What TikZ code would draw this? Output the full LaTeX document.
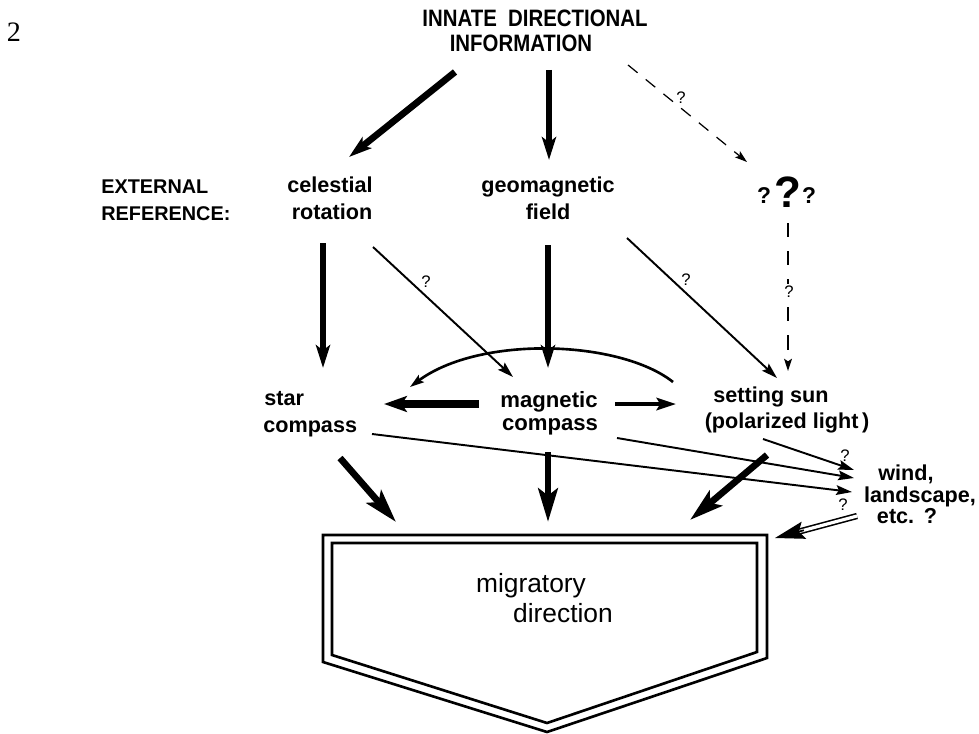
\documentclass[tikz,border=0pt]{standalone}
\usepackage{fontspec}
\setmainfont{Liberation Sans}
\newfontfamily\condfont[FakeStretch=0.86]{Liberation Sans}
\newfontfamily\serfont{Liberation Serif}
\usetikzlibrary{arrows.meta,calc}
\begin{document}
\begin{tikzpicture}[x=0.02cm,y=-0.02cm,
  lab/.style={inner sep=0pt, anchor=base, font=\bfseries\fontsize{12.3}{14}\selectfont},
  caps/.style={inner sep=0pt, anchor=base west, font=\bfseries\fontsize{11.3}{14}\selectfont},
  head/.style={inner sep=0pt, anchor=base, font=\condfont\bfseries\fontsize{13.5}{16}\selectfont},
  qs/.style={inner sep=0pt, font=\fontsize{9.5}{10}\selectfont},
  big/.style={line width=3.4pt, -{Stealth[length=13pt,width=8pt,inset=3pt]}},
  boxarrow/.style={line width=3.8pt, -{Stealth[length=19pt,width=11pt,inset=4pt]}},
  thin/.style={line width=1.1pt, -{Stealth[length=9pt,width=5.5pt,inset=1.5pt]}},
  dashline/.style={line width=0.7pt, dash pattern=on 7pt off 6pt, -{Stealth[length=7pt,width=4.5pt,inset=1.5pt]}},
  boxline/.style={line width=1.5pt, line join=miter}
]
\fill[white] (0,0) rectangle (979,733);
\useasboundingbox (0,0) rectangle (979,733);

% --- texts ---
\node[inner sep=0pt, anchor=base, font=\serfont\fontsize{16}{17}\selectfont] (num) at (14,42) {2};
\node[head] (innA) at (535,27) {INNATE\ \ DIRECTIONAL};
\node[head] (innB) at (521,52) {INFORMATION};
\node[caps] (extA) at (101,194) {EXTERNAL};
\node[caps] (extB) at (101,220) {REFERENCE:};
\node[lab] (celA) at (330,193) {celestial};
\node[lab] (celB) at (332,219) {rotation};
\node[lab] (geoA) at (548,193) {geomagnetic};
\node[lab] (geoB) at (548,219) {field};
\node[inner sep=0pt, anchor=base, font=\bfseries\fontsize{13}{14}\selectfont] (qa) at (764,203) {?};
\node[inner sep=0pt, anchor=base, font=\bfseries\fontsize{25}{26}\selectfont] (qbig) at (788,207) {?};
\node[inner sep=0pt, anchor=base, font=\bfseries\fontsize{13}{14}\selectfont] (qc) at (809,203) {?};
\node[lab, anchor=base west] (starA) at (264,405) {star};
\node[lab, anchor=base west] (starB) at (263,432) {compass};
\node[lab, font=\bfseries\fontsize{12.6}{14}\selectfont] (magA) at (549,407) {magnetic};
\node[lab, font=\bfseries\fontsize{12.6}{14}\selectfont] (magB) at (550,430) {compass};
\node[lab] (sunA) at (771,402) {setting sun};
\node[lab] (sunB) at (787,428) {(polarized light\,)};
\node[lab] (windA) at (906,480) {wind,};
\node[lab] (windB) at (920,502) {landscape,};
\node[lab] (windC) at (907,523) {etc.\ \,?};
\node[inner sep=0pt, anchor=base, font=\fontsize{15}{17}\selectfont] (migA) at (531,592) {migratory};
\node[inner sep=0pt, anchor=base, font=\fontsize{15}{17}\selectfont] (migB) at (563,622) {direction};

% --- connector end points ---
\coordinate (iA) at (455,72);   \coordinate (iAt) at (349,157);
\coordinate (iB) at (549,70);   \coordinate (iBt) at (549,160);
\coordinate (iC) at (628,65);   \coordinate (iCt) at (747,162);
\coordinate (cA) at (323,243);  \coordinate (cAt) at (323,368);
\coordinate (cB) at (373,247);  \coordinate (cBt) at (513,377);
\coordinate (gA) at (548,245);  \coordinate (gAt) at (548,368);
\coordinate (gB) at (627,238);  \coordinate (gBt) at (777,378);
\coordinate (qA) at (788,223);  \coordinate (qAt) at (788,371);
\coordinate (arcR) at (673,382); \coordinate (arcL) at (410,387);
\coordinate (mL) at (479,404);  \coordinate (mLt) at (384,404);
\coordinate (mR) at (615,404);  \coordinate (mRt) at (676,404);
\coordinate (sW) at (372,434);  \coordinate (sWt) at (852,492);
\coordinate (mW) at (617,438);  \coordinate (mWt) at (854,478);
\coordinate (uW) at (763,439);  \coordinate (uWt) at (854,470);
\coordinate (wB) at (857,516);  \coordinate (wBt) at (775,538);
\coordinate (sX) at (340,458);  \coordinate (sXt) at (396,522);
\coordinate (mX) at (548,452);  \coordinate (mXt) at (548,522);
\coordinate (uX) at (767,455);  \coordinate (uXt) at (690,520);

% --- connectors ---
\draw[big, line width=3.8pt] (iA) -- (iAt);
\draw[big] (iB) -- (iBt);
\draw[dashline] (iC) -- (iCt);
\draw[big] (cA) -- (cAt);
\draw[thin] (cB) -- (cBt);
\draw[big] (gA) -- (gAt);
\draw[thin] (gB) -- (gBt);
\draw[dashline, dash pattern=on 8pt off 8pt] (qA) -- (qAt);
\draw[line width=1.5pt, -{Stealth[length=8pt,width=5pt,inset=1.5pt]}] (arcR) .. controls (620,340) and (480,335) .. (arcL);
\draw[line width=4pt, -{Stealth[length=13pt,width=9pt,inset=3pt]}] (mL) -- (mLt);
\draw[line width=2.2pt, -{Stealth[length=11pt,width=7pt,inset=2pt]}] (mR) -- (mRt);
\draw[thin] (sW) -- (sWt);
\draw[thin] (mW) -- (mWt);
\draw[thin] (uW) -- (uWt);
\draw[line width=0.9pt, double distance=1.8pt] (wB) -- ($(wBt)!14pt!(wB)$);
\draw[line width=1pt, -{Stealth[length=17pt,width=10pt,inset=3pt]}] ($(wBt)!17pt!(wB)$) -- (wBt);
\draw[boxarrow] (sX) -- (sXt);
\draw[boxarrow] (mX) -- (mXt);
\draw[boxarrow] (uX) -- (uXt);

% --- question marks on connectors ---
\node[qs] (q1) at (681,98) {?};
\node[qs] (q2) at (426,282) {?};
\node[qs] (q3) at (686,280) {?};
\node[qs, fill=white, inner sep=1.5pt] (q4) at (789,292) {?};
\node[qs] (q5) at (845,456) {?};
\node[qs] (q6) at (843,505) {?};

% --- migratory direction box ---
\coordinate (bo1) at (323,535); \coordinate (bo2) at (767,535); \coordinate (bo3) at (767,658);
\coordinate (bo4) at (547,732); \coordinate (bo5) at (323,662);
\coordinate (bi1) at (332,543); \coordinate (bi2) at (757,543); \coordinate (bi3) at (757,652);
\coordinate (bi4) at (547,723); \coordinate (bi5) at (332,655);
\draw[boxline] (bo1) -- (bo2) -- (bo3) -- (bo4) -- (bo5) -- cycle;
\draw[boxline] (bi1) -- (bi2) -- (bi3) -- (bi4) -- (bi5) -- cycle;
\end{tikzpicture}
\end{document}
